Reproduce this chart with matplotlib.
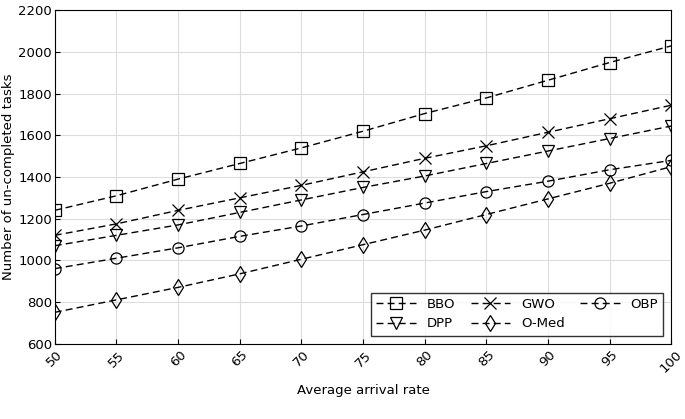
import matplotlib
matplotlib.use("Agg")
import matplotlib.pyplot as plt

rates = [50, 55, 60, 65, 70, 75, 80, 85, 90, 95, 100]
bbo = [1240, 1310, 1390, 1465, 1540, 1620, 1705, 1780, 1865, 1950, 2030]
gwo = [1120, 1175, 1240, 1300, 1360, 1425, 1490, 1550, 1615, 1680, 1745]
dpp = [1070, 1120, 1170, 1230, 1290, 1350, 1405, 1465, 1525, 1585, 1645]
obp = [960, 1010, 1060, 1115, 1165, 1220, 1275, 1330, 1380, 1435, 1480]
omed = [750, 810, 870, 935, 1005, 1075, 1145, 1220, 1295, 1370, 1450]

fig = plt.figure(figsize=(6.85, 4.19), dpi=100)
ax = fig.add_axes([0.08, 0.18, 0.90, 0.795])
kw = dict(color="black", linestyle=(0, (5, 3)), linewidth=1.0, markersize=8,
          markerfacecolor="none", markeredgewidth=0.9)
ax.plot(rates, bbo, marker="s", label="BBO", **kw)
ax.plot(rates, gwo, marker="x", label="GWO", **kw)
ax.plot(rates, obp, marker="o", label="OBP", **kw)
ax.plot(rates, dpp, marker="v", label="DPP", **kw)
ax.plot(rates, omed, marker="d", label="O-Med", **kw)
ax.set_xlim(50, 100)
ax.set_ylim(600, 2200)
ax.set_xticks(rates)
ax.set_yticks(range(600, 2201, 200))
ax.tick_params(axis="x", rotation=45, labelsize=9.5, direction="in")
ax.tick_params(axis="y", labelsize=9.5, direction="in", pad=2)
ax.grid(True, color="#dddddd", linewidth=0.8)
ax.set_xlabel("Average arrival rate", fontsize=9.5, labelpad=6)
ax.set_ylabel("Number of un-completed tasks", fontsize=9.5, labelpad=2)
h, l = ax.get_legend_handles_labels()
order = [0, 3, 1, 4, 2]
ax.legend([h[i] for i in order], [l[i] for i in order], ncol=3, loc="lower right",
          fancybox=False, edgecolor="black", fontsize=9.5, handlelength=3,
          columnspacing=1.2, borderaxespad=0.6)
fig.savefig("out.png", dpi=100)
